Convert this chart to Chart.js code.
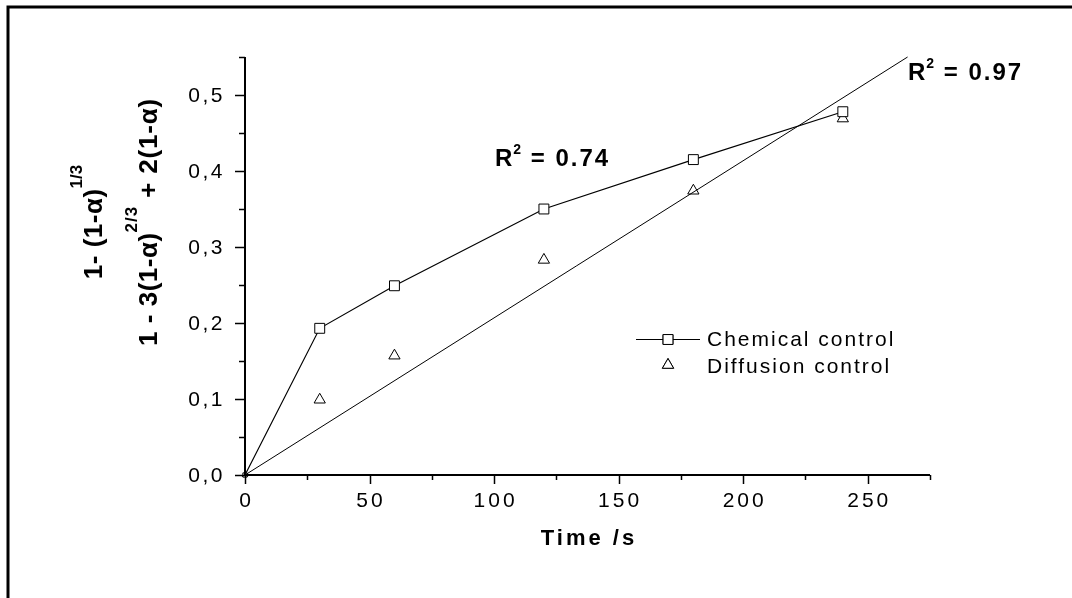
<!DOCTYPE html>
<html>
<head>
<meta charset="utf-8">
<script src="https://cdn.jsdelivr.net/npm/chart.js@4/dist/chart.umd.min.js"></script>
<style>
  html, body { margin: 0; padding: 0; background: #fff; }
  canvas { display: block; }
</style>
</head>
<body>
<canvas id="kinChart" width="1072" height="598"></canvas>
<script>
// data
var times = [0, 30, 60, 120, 180, 240];
var chemical = [0, 0.193, 0.249, 0.350, 0.415, 0.478];
var diffusion = [0, 0.099, 0.157, 0.283, 0.374, 0.469];
var fitTimes = [0, 266];
var fitValues = [0, 0.55];
var xTicks = [0, 50, 100, 150, 200, 250];
var xMinor = [25, 75, 125, 175, 225, 275];
var yTicks = [0, 0.1, 0.2, 0.3, 0.4, 0.5];
var yMinor = [0.05, 0.15, 0.25, 0.35, 0.45, 0.55];
var yTickLabels = ["0,0", "0,1", "0,2", "0,3", "0,4", "0,5"];
var seriesNames = ["Chemical control", "Diffusion control"];

var FONT = '"Liberation Sans", Arial, sans-serif';

function pts(xs, ys) {
  return xs.map(function (x, i) { return { x: x, y: ys[i] }; });
}

function spaced(ctx, text, x, y, spacing) {
  ctx.letterSpacing = spacing + "px";
  ctx.fillText(text, x, y);
  var w = ctx.measureText(text).width;
  ctx.letterSpacing = "0px";
  return w;
}

// draw runs of text with superscripts, starting at x on baseline y
function richText(ctx, parts, x, y) {
  parts.forEach(function (p) {
    ctx.font = p.font;
    ctx.letterSpacing = (p.sp || 0) + "px";
    ctx.fillText(p.t, x, y - (p.up || 0));
    x += ctx.measureText(p.t).width;
  });
  ctx.letterSpacing = "0px";
  return x;
}
function richWidth(ctx, parts) {
  var w = 0;
  parts.forEach(function (p) {
    ctx.font = p.font;
    ctx.letterSpacing = (p.sp || 0) + "px";
    w += ctx.measureText(p.t).width;
  });
  ctx.letterSpacing = "0px";
  return w;
}

var decor = {
  id: "decor",
  afterDraw: function (chart) {
    var ctx = chart.ctx;
    var xs = chart.scales.x, ys = chart.scales.y;
    var a = chart.chartArea;
    ctx.save();
    ctx.fillStyle = "#000";
    ctx.strokeStyle = "#000";

    // frame (top and left only)
    ctx.lineWidth = 3;
    ctx.beginPath();
    ctx.moveTo(8, 598); ctx.lineTo(8, 7); ctx.lineTo(1072, 7);
    ctx.stroke();

    // axes
    ctx.lineWidth = 2;
    ctx.beginPath();
    ctx.moveTo(a.left, a.top); ctx.lineTo(a.left, a.bottom); ctx.lineTo(a.right, a.bottom);
    ctx.stroke();

    ctx.lineWidth = 1.5;
    ctx.beginPath();
    xTicks.forEach(function (v) {
      var px = Math.round(xs.getPixelForValue(v)) + 0.5;
      ctx.moveTo(px, a.bottom); ctx.lineTo(px, a.bottom + 9);
    });
    xMinor.forEach(function (v) {
      var px = Math.round(xs.getPixelForValue(v)) + 0.5;
      ctx.moveTo(px, a.bottom); ctx.lineTo(px, a.bottom + 5);
    });
    yTicks.forEach(function (v) {
      var py = Math.round(ys.getPixelForValue(v)) + 0.5;
      ctx.moveTo(a.left, py); ctx.lineTo(a.left - 10, py);
    });
    yMinor.forEach(function (v) {
      var py = Math.round(ys.getPixelForValue(v)) + 0.5;
      ctx.moveTo(a.left, py); ctx.lineTo(a.left - 6, py);
    });
    ctx.stroke();

    // tick labels
    ctx.font = "21px " + FONT;
    ctx.textBaseline = "top";
    ctx.textAlign = "center";
    xTicks.forEach(function (v) {
      spaced(ctx, String(v), xs.getPixelForValue(v) + 1.5, a.bottom + 16, 3);
    });
    ctx.textBaseline = "middle";
    ctx.textAlign = "right";
    yTicks.forEach(function (v, i) {
      spaced(ctx, yTickLabels[i], a.left - 20, ys.getPixelForValue(v) + 1, 2.5);
    });

    // x title
    ctx.font = "bold 22px " + FONT;
    ctx.textAlign = "center";
    ctx.textBaseline = "alphabetic";
    spaced(ctx, "Time /s", 589, 545, 3);

    // y title (two rotated lines)
    ctx.textAlign = "left";
    var big = "bold 26px " + FONT, sup = "bold 17px " + FONT;
    var line1 = [{ t: "1- (1-α)", font: big, sp: 0.5 }, { t: "1/3", font: sup, up: 20 }];
    var line2 = [{ t: "1 - 3(1-α)", font: big, sp: 0.5 }, { t: "2/3", font: sup, up: 20, sp: 1 },
                 { t: " + 2(1-α)", font: big, sp: 0.8 }];
    [[line1, 102], [line2, 157]].forEach(function (ln) {
      ctx.save();
      ctx.translate(ln[1], 222);
      ctx.rotate(-Math.PI / 2);
      richText(ctx, ln[0], -richWidth(ctx, ln[0]) / 2, 0);
      ctx.restore();
    });

    // R^2 annotations
    var rb = "bold 24px " + FONT, rs = "bold 14px " + FONT;
    richText(ctx, [{ t: "R", font: rb, sp: 1 }, { t: "2", font: rs, up: 12, sp: 1 },
                   { t: " = 0.74", font: rb, sp: 2 }], 495, 166);
    richText(ctx, [{ t: "R", font: rb, sp: 1 }, { t: "2", font: rs, up: 12, sp: 1 },
                   { t: " = 0.97", font: rb, sp: 2 }], 908, 80);

    // legend
    ctx.lineWidth = 1;
    ctx.beginPath();
    ctx.moveTo(636, 339.5); ctx.lineTo(700, 339.5);
    ctx.stroke();
    Chart.helpers.drawPoint(ctx, { pointStyle: "rect", radius: 7, borderWidth: 1 }, 668, 339.5);
    ctx.fillStyle = "#fff";
    ctx.fill();
    ctx.stroke();
    Chart.helpers.drawPoint(ctx, { pointStyle: "triangle", radius: 6.5, borderWidth: 1 }, 668, 365);
    ctx.fill();
    ctx.stroke();
    ctx.fillStyle = "#000";
    ctx.font = "21px " + FONT;
    ctx.textAlign = "left";
    ctx.textBaseline = "alphabetic";
    spaced(ctx, seriesNames[0], 707, 346, 2);
    spaced(ctx, seriesNames[1], 707, 373, 2);

    ctx.restore();
  }
};

var smallFirst = function (c) { return c.dataIndex === 0 ? 3 : 7; };

new Chart(document.getElementById("kinChart"), {
  type: "scatter",
  data: {
    datasets: [
      {
        label: "fit",
        data: pts(fitTimes, fitValues),
        showLine: true,
        borderColor: "#000",
        borderWidth: 1,
        pointRadius: 0,
        clip: false
      },
      {
        label: seriesNames[0],
        data: pts(times, chemical),
        showLine: true,
        borderColor: "#000",
        borderWidth: 1.2,
        pointStyle: "rect",
        pointRadius: smallFirst,
        pointBorderWidth: 1,
        pointBorderColor: "#000",
        pointBackgroundColor: "#fff",
        clip: false
      },
      {
        label: seriesNames[1],
        data: pts(times, diffusion),
        showLine: false,
        pointStyle: "triangle",
        pointRadius: function (c) { return c.dataIndex === 0 ? 3 : 6.5; },
        pointBorderWidth: 1,
        pointBorderColor: "#000",
        pointBackgroundColor: "#fff",
        clip: false
      }
    ]
  },
  options: {
    responsive: false,
    animation: false,
    layout: { padding: { left: 245, right: 142, top: 57, bottom: 123 } },
    plugins: { legend: { display: false }, tooltip: { enabled: false } },
    scales: {
      x: { type: "linear", min: 0, max: 275, display: false },
      y: { type: "linear", min: 0, max: 0.55, display: false }
    }
  },
  plugins: [decor]
});
</script>
</body>
</html>
